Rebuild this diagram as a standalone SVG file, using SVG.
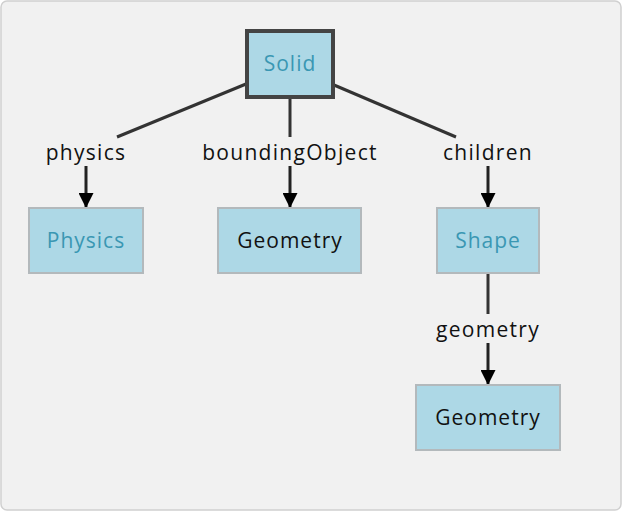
<svg xmlns="http://www.w3.org/2000/svg" width="623" height="511" viewBox="0 0 623 511">
<style>
.node rect{fill:#add8e6;stroke:#b3b9bc;stroke-width:2}
.node text{font-family:"Open Sans",Lato,sans-serif;font-size:21px;letter-spacing:1px;text-anchor:middle;dominant-baseline:central}
.lnk{fill:#3a97b3}
.plain{fill:#111}
.edge{stroke:#333;stroke-width:3;fill:none}
.arr{stroke:#222;stroke-width:3;fill:none;marker-end:url(#ah)}
.lbl{font-family:"Open Sans",Lato,sans-serif;font-size:21px;letter-spacing:1.3px;text-anchor:middle;fill:#111;dominant-baseline:central}
</style>
<defs>
<marker id="ah" viewBox="0 0 10 10" refX="10" refY="5" markerWidth="5" markerHeight="5" markerUnits="strokeWidth" orient="auto">
<path d="M0,0 L10,5 L0,10 z" fill="#000"/>
</marker>
</defs>
<rect x="1" y="1" width="620" height="509" rx="6" fill="#f1f1f1" stroke="#d0d0d0" stroke-width="1.5"/>
<g id="connectors">
<path class="edge" d="M246,84 L117,137"/>
<path class="arr" d="M86,166 L86,208"/>
<path class="edge" d="M290,98 L290,137"/>
<path class="arr" d="M290,166 L290,208"/>
<path class="edge" d="M334,85 L456,137"/>
<path class="arr" d="M488,166 L488,208"/>
<path class="edge" d="M488,274 L488,314"/>
<path class="arr" d="M488,343 L488,385"/>
<text class="lbl" x="86" y="152">physics</text>
<text class="lbl" x="290" y="152">boundingObject</text>
<text class="lbl" x="488" y="152">children</text>
<text class="lbl" x="488" y="329">geometry</text>
</g>
<g id="solid" class="node"><rect x="247" y="31" width="86" height="66" style="stroke:#444;stroke-width:4"/><text class="lnk" x="290" y="63">Solid</text></g>
<g id="physics" class="node"><rect x="29" y="208" width="114" height="65"/><text class="lnk" x="86" y="240">Physics</text></g>
<g id="geometry1" class="node"><rect x="218" y="208" width="143" height="65"/><text class="plain" x="290" y="240">Geometry</text></g>
<g id="shape" class="node"><rect x="437" y="208" width="102" height="65"/><text class="lnk" x="488" y="240">Shape</text></g>
<g id="geometry2" class="node"><rect x="416" y="385" width="144" height="65"/><text class="plain" x="488" y="417">Geometry</text></g>
</svg>
